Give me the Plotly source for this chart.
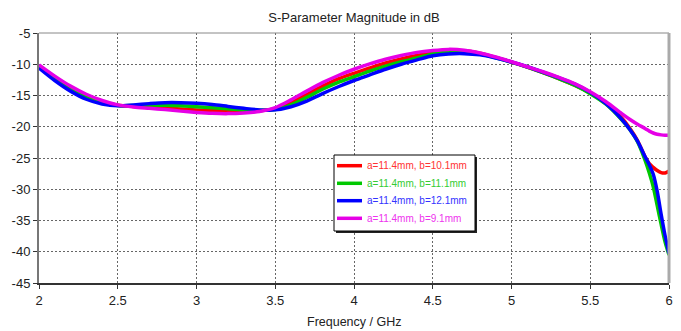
import plotly.graph_objects as go

freq = [2.0, 2.1, 2.2, 2.3, 2.4, 2.5, 2.6, 2.7, 2.8, 2.9, 3.0, 3.1, 3.2, 3.3, 3.4, 3.5,
        3.6, 3.7, 3.8, 3.9, 4.0, 4.1, 4.2, 4.3, 4.4, 4.5, 4.6, 4.7, 4.8, 4.9, 5.0,
        5.1, 5.2, 5.3, 5.4, 5.5, 5.6, 5.7, 5.75, 5.8, 5.85, 5.875, 5.9, 5.925, 5.95, 5.975, 6.0]

s_b101 = [-10.3, -12.1, -13.7, -15.0, -15.95, -16.55, -16.75, -16.85, -17.0, -17.15, -17.3, -17.4, -17.5, -17.6, -17.45, -17.1,
          -16.1, -14.8, -13.5, -12.35, -11.45, -10.6, -9.8, -9.15, -8.6, -8.15, -7.9, -7.85, -8.25, -8.9, -9.65,
          -10.45, -11.35, -12.3, -13.35, -14.6, -16.2, -18.6, -20.2, -22.2, -24.9, -25.9, -26.5, -27.0, -27.35, -27.4, -27.1]
s_b111 = [-10.4, -12.3, -13.9, -15.2, -16.1, -16.6, -16.6, -16.5, -16.55, -16.65, -16.8, -16.95, -17.1, -17.3, -17.35, -17.25,
          -16.5, -15.3, -14.0, -12.9, -12.0, -11.1, -10.3, -9.6, -9.0, -8.35, -8.05, -7.95, -8.35, -8.95, -9.65,
          -10.45, -11.35, -12.3, -13.35, -14.7, -16.4, -18.9, -20.4, -22.4, -25.5, -27.4, -29.6, -32.6, -35.6, -38.4, -40.5]
s_b121 = [-10.6, -12.6, -14.3, -15.6, -16.35, -16.65, -16.5, -16.3, -16.15, -16.15, -16.25, -16.45, -16.75, -17.05, -17.3, -17.3,
          -16.8, -15.9, -14.7, -13.6, -12.6, -11.7, -10.8, -10.0, -9.3, -8.65, -8.35, -8.3, -8.5, -9.0, -9.65,
          -10.4, -11.25, -12.15, -13.15, -14.5, -16.3, -18.8, -20.4, -22.3, -24.9, -26.1, -27.6, -30.3, -34.0, -37.4, -40.3]
s_b91 = [-10.1, -11.9, -13.5, -14.8, -15.8, -16.5, -16.85, -17.05, -17.25, -17.5, -17.7, -17.85, -17.9, -17.8, -17.55, -16.95,
         -15.7, -14.3, -12.95, -11.8, -10.8, -9.95, -9.2, -8.6, -8.1, -7.8, -7.62, -7.75, -8.2, -8.85, -9.6,
         -10.4, -11.2, -12.1, -13.1, -14.4, -16.0, -17.9, -18.8, -19.6, -20.3, -20.7, -21.0, -21.2, -21.3, -21.35, -21.35]

series_names = ["a=11.4mm, b=10.1mm", "a=11.4mm, b=11.1mm", "a=11.4mm, b=12.1mm", "a=11.4mm, b=9.1mm"]
series_colors = ["#ff0000", "#00c800", "#0000ff", "#e600e6"]
text_colors = ["#ff3333", "#33cc33", "#3333ff", "#ee33ee"]
series_vals = [s_b101, s_b111, s_b121, s_b91]

x_ticks = [2, 2.5, 3, 3.5, 4, 4.5, 5, 5.5, 6]
y_ticks = [-5, -10, -15, -20, -25, -30, -35, -40, -45]

FONT = "Liberation Sans, Arial, sans-serif"
W, H = 681, 331
L, R, T, B = 39, 669, 33, 283  # plot area in pixels

def dx(x):
    return (x - L) / (R - L)

def dy(y):
    return (B - y) / (B - T)

fig = go.Figure()
for name, col, vals in zip(series_names, series_colors, series_vals):
    fig.add_trace(go.Scatter(
        x=freq, y=vals, mode="lines",
        line=dict(color=col, width=3.5, shape="spline", smoothing=0.8),
        name=name, showlegend=False,
    ))

shapes = [
    dict(type="line", xref="paper", yref="paper", x0=0, x1=1, y0=1, y1=1,
         line=dict(color="#888888", width=1)),
    dict(type="line", xref="paper", yref="paper", x0=1, x1=1, y0=0, y1=1,
         line=dict(color="#aaaaaa", width=3)),
    # legend shadow + box
    dict(type="rect", xref="paper", yref="paper",
         x0=dx(336), x1=dx(477), y0=dy(233), y1=dy(157),
         fillcolor="#222222", line=dict(width=0), layer="above"),
    dict(type="rect", xref="paper", yref="paper",
         x0=dx(334), x1=dx(475), y0=dy(231), y1=dy(155),
         fillcolor="white", line=dict(color="black", width=1), layer="above"),
]
annotations = [
    dict(xref="paper", yref="paper", x=dx(354), y=dy(322), xanchor="center", yanchor="middle",
         showarrow=False, text="Frequency / GHz", font=dict(family=FONT, size=12.5, color="#222222")),
]
entry_y = [165.7, 183.3, 200.7, 218.3]
for name, col, tcol, ey in zip(series_names, series_colors, text_colors, entry_y):
    shapes.append(dict(type="line", xref="paper", yref="paper",
                       x0=dx(337), x1=dx(362), y0=dy(ey), y1=dy(ey),
                       line=dict(color=col, width=3.5), layer="above"))
    annotations.append(dict(xref="paper", yref="paper",
                            x=dx(365), y=dy(ey),
                            xanchor="left", yanchor="middle", showarrow=False,
                            text=name, font=dict(family=FONT, size=10, color=tcol)))

fig.update_layout(
    width=W, height=H,
    margin=dict(l=L, r=W - R, t=T, b=H - B),
    paper_bgcolor="white", plot_bgcolor="white",
    title=dict(text="S-Parameter Magnitude in dB", x=(L + R) / 2 / W, xanchor="center",
               y=1 - 17 / H, yanchor="middle",
               font=dict(family=FONT, size=13, color="#222222")),
    font=dict(family=FONT, size=13, color="#222222"),
    showlegend=False,
    xaxis=dict(
        range=[2, 6], tickvals=x_ticks, ticktext=[str(v) for v in x_ticks],
        showgrid=True, gridcolor="#666666", griddash="2px,2px", gridwidth=1,
        showline=True, linecolor="#333333", linewidth=2,
        ticks="outside", ticklen=4, tickcolor="#333333",
        zeroline=False, automargin=False,
        tickfont=dict(family=FONT, size=13),
    ),
    yaxis=dict(
        range=[-45, -5], tickvals=y_ticks, ticktext=[str(v) for v in y_ticks],
        showgrid=True, gridcolor="#666666", griddash="2px,2px", gridwidth=1,
        showline=True, linecolor="#777777", linewidth=2,
        ticks="outside", ticklen=4, tickcolor="#333333",
        zeroline=False, automargin=False,
        tickfont=dict(family=FONT, size=13),
    ),
    shapes=shapes,
    annotations=annotations,
)

fig.write_html("out.html")
